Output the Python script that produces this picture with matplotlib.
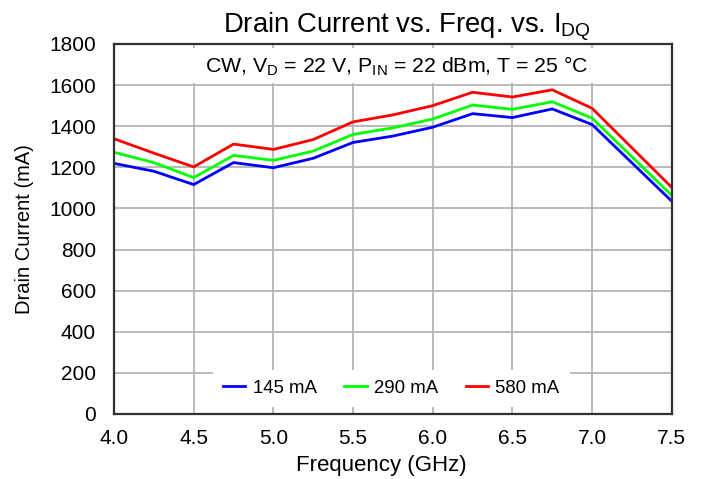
import matplotlib.pyplot as plt
from matplotlib.patches import Rectangle

# frequency points (GHz) and drain current (mA) for each IDQ
freq = [4.0, 4.25, 4.5, 4.75, 5.0, 5.25, 5.5, 5.75, 6.0, 6.25, 6.5, 6.75, 7.0, 7.5]
i_145 = [1219, 1181, 1116, 1223, 1198, 1244, 1321, 1352, 1395, 1461, 1442, 1484, 1408, 1035]
i_290 = [1273, 1223, 1150, 1258, 1234, 1279, 1360, 1392, 1435, 1503, 1482, 1519, 1439, 1063]
i_580 = [1339, 1269, 1202, 1313, 1287, 1335, 1421, 1455, 1500, 1565, 1542, 1577, 1487, 1102]
labels = ["145 mA", "290 mA", "580 mA"]
colors = ["#0000ff", "#00ff00", "#ff0000"]

plt.rcParams.update({"font.family": ["Liberation Sans", "DejaVu Sans"],
                     "mathtext.fontset": "custom",
                     "mathtext.rm": "Liberation Sans",
                     "mathtext.it": "Liberation Sans:italic"})

fig = plt.figure(figsize=(7.02, 4.79), dpi=100)
ax = fig.add_axes([0.1624, 0.1357, 0.7946, 0.7725])

for ys, lab, c in zip([i_145, i_290, i_580], labels, colors):
    ax.plot(freq, ys, color=c, lw=2.0, label=lab, zorder=3)

ax.set_xlim(4.0, 7.5)
ax.set_ylim(0, 1800)
ax.set_xticks([4.0, 4.5, 5.0, 5.5, 6.0, 6.5, 7.0, 7.5])
ax.set_xticklabels(["%.1f" % v for v in ax.get_xticks()])
ax.set_yticks(range(0, 1801, 200))
ax.grid(True, color="#b4b4b4", lw=1.3, zorder=0)
ax.set_axisbelow(True)
ax.tick_params(length=0, labelsize=15, colors="black")
ax.tick_params(axis="y", pad=13)
ax.tick_params(axis="x", pad=11)
for s in ax.spines.values():
    s.set_color("#303030")
    s.set_linewidth(1.6)
    s.set_zorder(5)

ax.set_title(r"Drain Current vs. Freq. vs. I$_\mathregular{DQ}$", fontsize=19.8, pad=8.5, x=0.525)
ax.set_xlabel("Frequency (GHz)", fontsize=16, labelpad=5, x=0.48)
ax.set_ylabel("Drain Current (mA)", fontsize=14.5, labelpad=11)

# condition box
ax.add_patch(Rectangle((0.133, 0.895), 0.747, 0.094, transform=ax.transAxes,
                       facecolor="white", edgecolor="none", zorder=2))
ax.text(0.507, 0.9405, r"CW, V$_\mathregular{D}$ = 22 V, P$_\mathregular{IN}$ = 22 dBm, T = 25 °C",
        transform=ax.transAxes, ha="center", va="center", fontsize=15.3, zorder=4)

leg = ax.legend(loc="center", bbox_to_anchor=(0.497, 0.069), ncol=3, fontsize=13.4,
                frameon=True, fancybox=False, framealpha=1, edgecolor="none",
                handlelength=1.2, handletextpad=0.38, columnspacing=1.5,
                borderpad=0.55)
leg.get_frame().set_facecolor("white")

fig.savefig("out.png", dpi=100)
